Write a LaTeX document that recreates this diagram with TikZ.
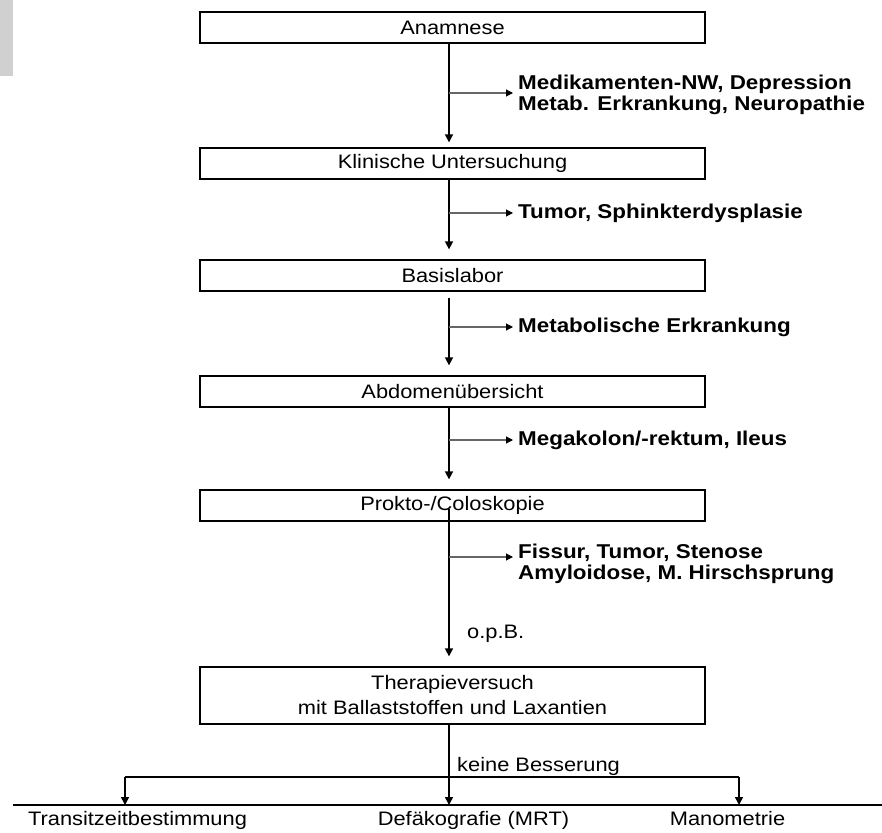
\documentclass[tikz,border=0pt]{standalone}
\usepackage{fontspec}
\setmainfont{Liberation Sans}
\newfontfamily\regf[FakeStretch=1.12]{Liberation Sans}
\newfontfamily\boldf[FakeStretch=1.12]{Liberation Sans}
\usetikzlibrary{arrows.meta}
\definecolor{blockgray}{HTML}{D0D0D0}
\definecolor{branchgray}{HTML}{666666}
\begin{document}
\begin{tikzpicture}[x=1pt,y=-1pt,
  box/.style={draw=black, line width=1.3pt, minimum width=505pt, inner sep=0pt,
    font=\regf\fontsize{19.5}{25}\selectfont, align=center},
  flow/.style={line width=1.6pt, -{Triangle[length=8pt,width=8pt]}},
  branch/.style={line width=1.1pt, draw=branchgray, -{Triangle[length=7pt,width=7pt,color=black]}},
  finding/.style={anchor=west, inner sep=0pt, align=left,
    font=\boldf\bfseries\fontsize{20}{21}\selectfont},
  note/.style={anchor=base west, inner sep=0pt, font=\regf\fontsize{19.5}{22}\selectfont},
  outcome/.style={anchor=base, inner sep=0pt, font=\regf\fontsize{19.5}{22}\selectfont},
  rule/.style={line width=1.6pt}]
\useasboundingbox (0,0) rectangle (882,832);
\fill[blockgray] (0,0) rectangle (13,76);
\coordinate (col) at (449,0);

% boxes
\node[box, minimum height=31pt] (anam)   at (452.5,27.5)  {Anamnese};
\node[box, minimum height=31pt] (klin)   at (452.5,163.5) {Klinische Untersuchung};
\node[box, minimum height=31pt] (basis)  at (452.5,275.5) {Basislabor};
\node[box, minimum height=31pt] (abdo)   at (452.5,391.5) {Abdomenübersicht};
\node[box, minimum height=31pt] (prokto) at (452.5,505.5) {Prokto-/Coloskopie};
\node[box, minimum height=57pt] (thera)  at (452.5,695.5) {Therapieversuch\\mit Ballaststoffen und Laxantien};

% main flow
\draw[flow, shorten >=5pt] (anam.south -| col) -- (klin.north -| col);
\draw[flow, shorten >=10pt] (klin.south -| col) -- (basis.north -| col);
\draw[flow, shorten <=6pt, shorten >=10pt] (basis.south -| col) -- (abdo.north -| col);
\draw[flow, shorten >=10pt] (abdo.south -| col) -- (prokto.north -| col);
\draw[flow, shorten >=10pt] ([yshift=-3pt]prokto.center -| col) -- (thera.north -| col);

% findings
\node[finding] (f1) at (518,95)  {Medikamenten-NW, Depression\\Metab. Erkrankung, Neuropathie};
\node[finding] (f2) at (518,213) {Tumor, Sphinkterdysplasie};
\node[finding] (f3) at (518,327) {Metabolische Erkrankung};
\node[finding] (f4) at (518,440) {Megakolon/-rektum, Ileus};
\node[finding] (f5) at (518,564) {Fissur, Tumor, Stenose\\Amyloidose, M. Hirschsprung};

\coordinate (b1) at (449,93);
\coordinate (b2) at (449,213);
\coordinate (b3) at (449,327);
\coordinate (b4) at (449,440);
\coordinate (b5) at (449,557);
\draw[branch, shorten >=5pt] (b1) -- (b1 -| f1.west);
\draw[branch, shorten >=5pt] (b2) -- (b2 -| f2.west);
\draw[branch, shorten >=5pt] (b3) -- (b3 -| f3.west);
\draw[branch, shorten >=5pt] (b4) -- (b4 -| f4.west);
\draw[branch, shorten >=5pt] (b5) -- (b5 -| f5.west);

\node[note] (opb) at (467,638) {o.p.B.};
\node[note] (kb) at (457,771) {keine Besserung};

% distribution
\coordinate (dl) at (125,777);
\coordinate (dr) at (739,777);
\coordinate (bl) at (13,805);
\coordinate (br) at (882,805);
\draw[line width=1.1pt] (dl) -- (dr);
\draw[rule] (bl) -- (br);
\draw[flow] (thera.south -| col) -- (col |- bl);
\draw[flow] (dl) -- (dl |- bl);
\draw[flow] (dr) -- (dr |- bl);

\node[outcome] (trans) at (137.5,825) {Transitzeitbestimmung};
\node[outcome] (defa)  at (473.5,825) {Defäkografie (MRT)};
\node[outcome] (mano)  at (727.5,825) {Manometrie};
\end{tikzpicture}
\end{document}
